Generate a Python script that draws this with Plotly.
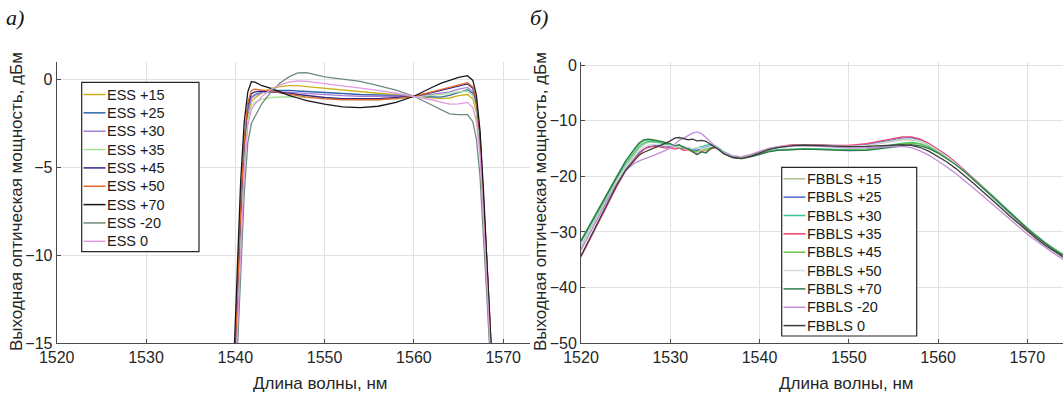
import plotly.graph_objects as go

# ---------------- data: panel a (ESS) ----------------
wl_ess = [1539.8, 1540.2, 1540.6, 1541.0, 1541.4, 1541.8, 1542.2, 1543, 1544, 1545, 1546, 1547, 1548,
          1550, 1552, 1554, 1556, 1558, 1560, 1562, 1563, 1564, 1565, 1566, 1566.6, 1567.0, 1567.4,
          1567.8, 1568.2, 1568.6, 1569.0]

ess_names = ["ESS +15", "ESS +25", "ESS +30", "ESS +35", "ESS +45", "ESS +50", "ESS +70", "ESS -20", "ESS 0"]
ess_colors = ["#c8b21a", "#2f66ab", "#a57ed6", "#a8e396", "#33288a", "#e2682a", "#16161f", "#6b8c7a", "#e09ae0"]

ess_p15 = [-19, -14, -8.5, -4.3, -2.0, -1.25, -1.05, -0.75, -0.5, -0.4, -0.35, -0.35, -0.4, -0.5, -0.62, -0.7,
           -0.78, -0.86, -0.95, -1.05, -1.08, -1.05, -0.92, -0.85, -1.1, -1.9, -3.8, -7.2, -11.2, -15.2, -19.5]
ess_p25 = [-18.5, -13.5, -8, -4, -1.8, -1.0, -0.85, -0.72, -0.62, -0.6, -0.62, -0.65, -0.68, -0.75, -0.8, -0.85,
           -0.88, -0.92, -0.96, -1.0, -1.0, -0.9, -0.72, -0.58, -0.8, -1.6, -3.5, -7.0, -11.0, -15.0, -19.5]
ess_p30 = [-18.5, -13.5, -8, -4, -1.8, -1.05, -0.9, -0.75, -0.68, -0.68, -0.72, -0.76, -0.8, -0.88, -0.92, -0.95,
           -0.96, -0.96, -0.95, -0.85, -0.78, -0.7, -0.55, -0.45, -0.7, -1.5, -3.4, -6.9, -10.9, -14.9, -19.5]
ess_p35 = [-19.5, -14.5, -9, -4.8, -2.3, -1.5, -1.3, -1.12, -1.02, -0.98, -0.98, -1.0, -1.02, -1.08, -1.12, -1.14,
           -1.14, -1.1, -1.0, -0.9, -0.85, -0.8, -0.7, -0.65, -0.9, -1.7, -3.6, -7.1, -11.1, -15.1, -19.5]
ess_p45 = [-18, -13, -7.5, -3.6, -1.5, -0.8, -0.7, -0.65, -0.68, -0.72, -0.78, -0.85, -0.92, -1.02, -1.08, -1.1,
           -1.08, -1.02, -0.95, -0.75, -0.62, -0.5, -0.35, -0.25, -0.5, -1.3, -3.2, -6.7, -10.7, -14.7, -19.2]
ess_p50 = [-18, -12.8, -7.3, -3.4, -1.3, -0.62, -0.55, -0.6, -0.65, -0.75, -0.85, -0.92, -1.0, -1.1, -1.15, -1.17,
           -1.15, -1.08, -0.95, -0.7, -0.58, -0.45, -0.3, -0.18, -0.42, -1.2, -3.1, -6.6, -10.6, -14.6, -19.2]
ess_p70 = [-16.5, -11, -5.8, -2.4, -0.7, -0.12, -0.15, -0.35, -0.5, -0.7, -0.9, -1.05, -1.2, -1.4, -1.55, -1.6,
           -1.52, -1.3, -0.95, -0.45, -0.22, -0.05, 0.12, 0.22, -0.05, -0.9, -2.9, -6.4, -10.4, -14.4, -19]
ess_m20 = [-20.5, -16, -11, -6.5, -3.6, -2.5, -2.1, -1.35, -0.7, -0.2, 0.15, 0.38, 0.4, 0.15, 0.02, -0.1,
           -0.35, -0.6, -0.95, -1.45, -1.7, -1.95, -2.0, -2.0, -2.4, -3.4, -5.5, -8.8, -12.6, -16.5, -20.5]
ess_0 = [-19.5, -14.8, -9.5, -5.2, -2.6, -1.7, -1.4, -0.95, -0.55, -0.3, -0.15, -0.08, -0.1, -0.22, -0.35, -0.48,
         -0.62, -0.78, -0.95, -1.15, -1.28, -1.4, -1.38, -1.3, -1.6, -2.4, -4.3, -7.8, -11.8, -15.8, -20]

ess_series = [ess_p15, ess_p25, ess_p30, ess_p35, ess_p45, ess_p50, ess_p70, ess_m20, ess_0]

# ---------------- data: panel b (FBBLS) ----------------
wl_fb = [1520, 1521, 1522, 1523, 1524, 1525, 1526, 1526.5, 1527, 1527.5, 1528, 1528.5, 1529, 1529.5, 1530,
         1530.5, 1531, 1531.5, 1532, 1532.5, 1533, 1533.5, 1534, 1534.5, 1535, 1535.5, 1536, 1537, 1538, 1539,
         1540, 1541, 1542, 1543, 1544, 1545, 1546, 1548, 1550, 1552, 1553, 1554, 1555, 1556, 1557, 1558, 1559,
         1560, 1561, 1562, 1563, 1564, 1565, 1566, 1567, 1568, 1569, 1570, 1571, 1572, 1573, 1574]

fb_names = ["FBBLS +15", "FBBLS +25", "FBBLS +30", "FBBLS +35", "FBBLS +45", "FBBLS +50", "FBBLS +70",
            "FBBLS -20", "FBBLS 0"]
fb_colors = ["#afc28a", "#4a6cd0", "#3cc496", "#f0406e", "#6cc24a", "#d6dbdf", "#2d7a4f", "#c08ed6", "#3a403a"]

fb_p15 = [-32.5, -29.5, -26.5, -23.6, -20.8, -18.2, -16.0, -15.0, -14.3, -13.9, -13.8, -13.8, -13.9, -14.1, -14.3,
          -14.5, -14.8, -14.6, -15.1, -15.4, -15.2, -15.5, -15.0, -14.8, -14.7, -15.1, -15.7, -16.3, -16.5, -16.1,
          -15.6, -15.1, -14.8, -14.6, -14.5, -14.5, -14.5, -14.6, -14.7, -14.5, -14.2, -13.9, -13.6, -13.4, -13.4,
          -13.7, -14.4, -15.3, -16.4, -17.7, -19.1, -20.6, -22.1, -23.6, -25.2, -26.7, -28.2, -29.7, -31.0, -32.2,
          -33.3, -34.3]
fb_p25 = [-33.0, -30.0, -27.0, -24.0, -21.2, -18.6, -16.5, -15.7, -15.1, -14.7, -14.5, -14.4, -14.5, -14.6, -14.7,
          -14.6, -14.9, -15.0, -14.8, -15.2, -15.3, -15.0, -14.7, -14.5, -14.6, -15.0, -15.6, -16.3, -16.5, -16.2,
          -15.6, -15.1, -14.8, -14.5, -14.35, -14.3, -14.3, -14.4, -14.5, -14.3, -14.0, -13.6, -13.3, -13.1, -13.0,
          -13.4, -14.2, -15.2, -16.3, -17.6, -19.0, -20.5, -22.0, -23.6, -25.2, -26.8, -28.3, -29.8, -31.1, -32.3,
          -33.4, -34.4]
fb_p30 = [-31.8, -28.9, -26.0, -23.1, -20.3, -17.7, -15.6, -14.6, -14.0, -13.7, -13.7, -13.8, -14.0, -14.2, -14.3,
          -14.5, -14.4, -14.7, -14.9, -15.1, -14.9, -14.7, -14.4, -14.2, -14.5, -15.0, -15.7, -16.4, -16.6, -16.3,
          -15.8, -15.4, -15.2, -15.1, -15.05, -15.0, -15.0, -15.1, -15.2, -15.1, -14.9, -14.6, -14.3, -14.0, -13.9,
          -14.1, -14.7, -15.5, -16.5, -17.7, -19.0, -20.4, -21.8, -23.3, -24.8, -26.3, -27.8, -29.3, -30.6, -31.9,
          -33.0, -34.0]
fb_p35 = [-34.5, -31.4, -28.2, -25.0, -21.8, -19.0, -16.8, -15.9, -15.2, -14.8, -14.6, -14.6, -14.7, -14.9, -14.8,
          -15.1, -14.9, -15.3, -15.2, -15.6, -16.0, -15.5, -15.7, -15.1, -14.8, -15.2, -15.8, -16.4, -16.6, -16.2,
          -15.6, -15.0, -14.7, -14.4, -14.3, -14.25, -14.3, -14.4, -14.4, -14.1, -13.8, -13.4, -13.1, -12.9, -12.9,
          -13.3, -14.1, -15.1, -16.2, -17.5, -18.9, -20.4, -21.9, -23.5, -25.1, -26.7, -28.2, -29.7, -31.0, -32.2,
          -33.3, -34.3]
fb_p45 = [-31.5, -28.6, -25.7, -22.8, -20.0, -17.3, -15.2, -14.2, -13.6, -13.4, -13.5, -13.6, -13.8, -14.0, -14.2,
          -14.6, -14.9, -14.7, -15.2, -15.4, -15.6, -15.1, -15.3, -14.8, -14.6, -15.1, -15.8, -16.5, -16.7, -16.4,
          -15.9, -15.5, -15.3, -15.2, -15.15, -15.1, -15.1, -15.2, -15.3, -15.2, -15.0, -14.7, -14.4, -14.1, -14.0,
          -14.2, -14.8, -15.6, -16.6, -17.8, -19.1, -20.5, -21.9, -23.4, -24.9, -26.4, -27.9, -29.4, -30.7, -32.0,
          -33.1, -34.1]
fb_p50 = [-32.8, -29.8, -26.8, -23.8, -21.0, -18.4, -16.3, -15.4, -14.8, -14.4, -14.2, -14.2, -14.3, -14.5, -14.4,
          -14.7, -14.6, -14.9, -14.8, -15.0, -14.8, -15.1, -14.9, -14.6, -14.7, -15.1, -15.7, -16.3, -16.5, -16.1,
          -15.5, -15.0, -14.7, -14.5, -14.4, -14.35, -14.4, -14.5, -14.6, -14.4, -14.1, -13.8, -13.5, -13.3, -13.3,
          -13.6, -14.3, -15.3, -16.4, -17.7, -19.1, -20.6, -22.1, -23.7, -25.3, -26.9, -28.4, -29.9, -31.2, -32.4,
          -33.5, -34.5]
fb_p70 = [-31.6, -28.7, -25.8, -22.9, -20.0, -17.2, -15.0, -14.0, -13.4, -13.3, -13.4, -13.5, -13.7, -13.9, -14.1,
          -14.5, -14.3, -14.8, -15.0, -15.5, -16.1, -15.6, -15.8, -15.0, -14.7, -15.2, -15.9, -16.6, -16.8, -16.5,
          -16.0, -15.6, -15.3, -15.2, -15.15, -15.1, -15.15, -15.25, -15.35, -15.3, -15.1, -14.9, -14.6, -14.4,
          -14.3, -14.5, -15.0, -15.8, -16.8, -17.9, -19.2, -20.6, -22.0, -23.5, -25.0, -26.5, -28.0, -29.4, -30.8,
          -32.0, -33.2, -34.2]
fb_m20 = [-33.3, -30.2, -27.1, -24.1, -21.3, -19.0, -17.6, -17.2, -16.9, -16.6, -16.3, -16.0, -15.7, -15.3, -14.9,
          -14.2, -13.5, -13.1, -12.7, -12.2, -12.0, -12.3, -13.0, -13.8, -14.6, -15.3, -15.9, -16.4, -16.5, -16.1,
          -15.5, -15.0, -14.7, -14.55, -14.5, -14.5, -14.55, -14.7, -14.9, -14.9, -14.8, -14.7, -14.6, -14.6, -14.8,
          -15.4, -16.2, -17.2, -18.3, -19.5, -20.8, -22.1, -23.5, -24.9, -26.3, -27.7, -29.0, -30.4, -31.6, -32.8,
          -33.9, -34.9]
fb_0 = [-34.3, -31.1, -27.9, -24.7, -21.6, -18.9, -17.0, -16.2, -15.7, -15.3, -15.0, -14.7, -14.4, -14.0, -13.6,
        -13.1, -13.0, -13.2, -13.4, -13.3, -13.6, -13.5, -13.7, -14.2, -14.7, -15.3, -15.9, -16.6, -16.8, -16.4,
        -15.8, -15.2, -14.8, -14.55, -14.4, -14.35, -14.4, -14.55, -14.65, -14.6, -14.5, -14.4, -14.3, -14.3, -14.4,
        -14.8, -15.5, -16.4, -17.4, -18.6, -19.9, -21.3, -22.7, -24.1, -25.6, -27.1, -28.5, -29.9, -31.2, -32.4,
        -33.5, -34.5]

fb_series = [fb_p15, fb_p25, fb_p30, fb_p35, fb_p45, fb_p50, fb_p70, fb_m20, fb_0]

x_ticks = [1520, 1530, 1540, 1550, 1560, 1570]
y_ticks_a = [-15, -10, -5, 0]
y_ticks_b = [-50, -40, -30, -20, -10, 0]
x_title = "Длина волны, нм"
y_title = "Выходная оптическая мощность, дБм"

# ---------------- figure ----------------
W, H = 1063, 396
def px(x):
    return x / W
def py(y):
    return 1 - y / H

FONT = "Liberation Sans, Arial, sans-serif"
TXT = "#262626"

fig = go.Figure()
for name, col, ys in zip(ess_names, ess_colors, ess_series):
    fig.add_trace(go.Scatter(x=wl_ess, y=ys, mode="lines", name=name, xaxis="x", yaxis="y",
                             line=dict(color=col, width=1.3), showlegend=False, hoverinfo="skip"))
for name, col, ys in zip(fb_names, fb_colors, fb_series):
    fig.add_trace(go.Scatter(x=wl_fb, y=ys, mode="lines", name=name, xaxis="x2", yaxis="y2",
                             line=dict(color=col, width=1.3), showlegend=False, hoverinfo="skip"))

ax_common = dict(showgrid=True, gridcolor="#e2e2e2", gridwidth=1, showline=True, linecolor="#4a4a4a",
                 linewidth=1, ticks="inside", ticklen=4, tickcolor="#4a4a4a", zeroline=False,
                 automargin=False, tickfont=dict(family=FONT, size=16, color=TXT))
ydom = [py(343), py(62)]

fig.update_layout(
    width=W, height=H, margin=dict(l=0, r=0, t=0, b=0, autoexpand=False),
    paper_bgcolor="white", plot_bgcolor="white",
    xaxis=dict(domain=[px(56.7), px(530)], range=[1520, 1573], tickvals=x_ticks, anchor="y", **ax_common),
    yaxis=dict(domain=ydom, range=[-15, 1], tickvals=y_ticks_a, anchor="x", **ax_common),
    xaxis2=dict(domain=[px(581), 1.0], range=[1520, 1574], tickvals=x_ticks, anchor="y2", **ax_common),
    yaxis2=dict(domain=ydom, range=[-50, 0.6], tickvals=y_ticks_b, anchor="x2", **ax_common),
)

ann = []
shapes = []
for cx in (320, 846):
    ann.append(dict(x=px(cx), y=py(383), xref="paper", yref="paper", text=x_title, showarrow=False,
                    xanchor="center", yanchor="middle", font=dict(family=FONT, size=17, color=TXT)))
for cx in (17, 541):
    ann.append(dict(x=px(cx), y=py(202), xref="paper", yref="paper", text=y_title, showarrow=False,
                    textangle=-90, xanchor="center", yanchor="middle", font=dict(family=FONT, size=17, color=TXT)))
for cx, lab in ((4, "а)"), (528, "б)")):
    ann.append(dict(x=px(cx), y=py(17), xref="paper", yref="paper", text="<i>" + lab + "</i>", showarrow=False,
                    xanchor="left", yanchor="middle",
                    font=dict(family="Liberation Serif, Times New Roman, serif", size=22, color="#111111")))

def legend(names, colors, x0, y0, x1, y1, first_cy, step, lx0, lx1, tx):
    shapes.append(dict(type="rect", xref="paper", yref="paper", x0=px(x0), x1=px(x1), y0=py(y1), y1=py(y0),
                       line=dict(color="#262626", width=1.2), fillcolor="white", layer="above"))
    for i, (n, c) in enumerate(zip(names, colors)):
        cy = first_cy + i * step
        shapes.append(dict(type="line", xref="paper", yref="paper", x0=px(lx0), x1=px(lx1), y0=py(cy), y1=py(cy),
                           line=dict(color=c, width=1.5), layer="above"))
        ann.append(dict(x=px(tx), y=py(cy), xref="paper", yref="paper", text=n, showarrow=False,
                        xanchor="left", yanchor="middle", font=dict(family=FONT, size=14.5, color="#1a1a1a")))

legend(ess_names, ess_colors, 81.7, 82.3, 199, 251.7, 94.5, 18.35, 83.5, 105.5, 104.5)
legend(fb_names, fb_colors, 781.7, 167.3, 916.7, 336, 178.8, 18.35, 783.5, 805.5, 804.5)

fig.update_layout(annotations=ann, shapes=shapes, hovermode=False, dragmode=False)
fig.write_html("out.html", config={"displayModeBar": False, "staticPlot": True},
               post_script="document.body.style.margin='0';document.body.style.overflow='hidden';")
